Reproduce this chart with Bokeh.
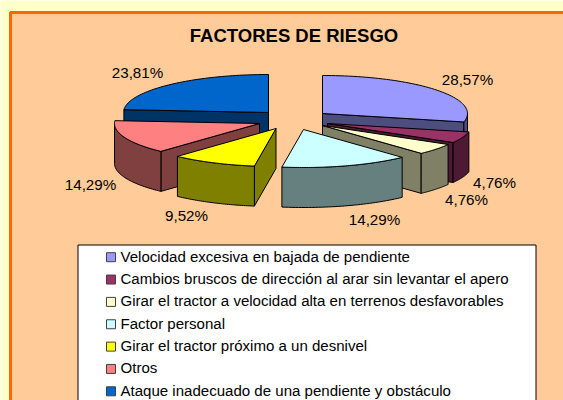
import numpy as np
from bokeh.plotting import figure
from bokeh.models import Range1d
from bokeh.embed import file_html
from bokeh.resources import INLINE
from bokeh.core.properties import value

title = "FACTORES DE RIESGO"
categories = [
    "Velocidad excesiva en bajada de pendiente",
    "Cambios bruscos de dirección al arar sin levantar el apero",
    "Girar el tractor a velocidad alta en terrenos desfavorables",
    "Factor personal",
    "Girar el tractor próximo a un desnivel",
    "Otros",
    "Ataque inadecuado de una pendiente y obstáculo",
]
values = [28.57, 4.76, 4.76, 14.29, 9.52, 14.29, 23.81]
labels = ["28,57%", "4,76%", "4,76%", "14,29%", "9,52%", "14,29%", "23,81%"]

top_colors = ["#9999FF", "#993366", "#FFFFCC", "#CCFFFF", "#FFFF00", "#FF8080", "#0066CC"]
side_colors = ["#4D4D80", "#4D1933", "#808066", "#668080", "#808000", "#804040", "#003366"]

# pie layout (screen pixels)
apex_x = [322, 327, 322, 303, 275.5, 259, 268]
apex_y = [113, 123, 125, 129, 128, 123, 112]
RX, RY, DEPTH = 145, 38, 40
label_x = [467, 494, 466, 374, 186, 90, 137]
label_y = [79, 182, 199, 219, 215, 184, 72]
draw_order = [0, 6, 1, 2, 5, 4, 3]
FONT = value("Liberation Sans")

W, H = 563, 400
p = figure(width=W, height=H, x_range=Range1d(0, W), y_range=Range1d(H, 0),
           output_backend="svg", toolbar_location=None, min_border=0)
p.xaxis.visible = False
p.yaxis.visible = False
p.xgrid.visible = False
p.ygrid.visible = False
p.outline_line_color = None
p.background_fill_color = "#FFFFCC"
p.border_fill_color = "#FFFFCC"

# chart panel
p.quad(left=[10], right=[570], top=[12], bottom=[410], fill_color="#FFCC99",
       line_color="#FF6600", line_width=3)

p.text(x=[293.5], y=[35], text=[title], text_font=FONT, text_font_style="bold",
       text_font_size="18.5px", text_align="center", text_baseline="middle", text_color="#000000")

edges = np.concatenate([[0], np.cumsum(values)]) / sum(values) * 2 * np.pi


def rim(cx, cy, a):
    return cx + RX * np.sin(a), cy - RY * np.cos(a)


for i in draw_order:
    s, e = edges[i], edges[i + 1]
    cx, cy = apex_x[i], apex_y[i]
    # straight cut walls
    for a, visible in ((s, np.sin(s) < 0), (e, np.sin(e) > 0)):
        if visible:
            rx, ry = rim(cx, cy, a)
            p.patch([cx, rx, rx, cx], [cy, ry, ry + DEPTH, cy + DEPTH],
                    fill_color=side_colors[i], line_color="#000000", line_width=1)
    # outer curved wall
    a0, a1 = max(s, np.pi / 2), min(e, 3 * np.pi / 2)
    if a1 > a0:
        t = np.linspace(a0, a1, 40)
        rx, ry = rim(cx, cy, t)
        p.patch(np.r_[rx, rx[::-1]], np.r_[ry, ry[::-1] + DEPTH],
                fill_color=side_colors[i], line_color="#000000", line_width=1)
    # top face
    t = np.linspace(s, e, 60)
    rx, ry = rim(cx, cy, t)
    p.patch(np.r_[cx, rx], np.r_[cy, ry], fill_color=top_colors[i],
            line_color="#000000", line_width=1)

p.text(x=label_x, y=label_y, text=labels, text_font=FONT, text_font_size="15.2px",
       text_align="center", text_baseline="middle", text_color="#000000")

# legend
p.quad(left=[77.5], right=[535.5], top=[244.5], bottom=[420], fill_color="#FFFFFF",
       line_color="#000000", line_width=1)
ly = [256.7 + 22.35 * i for i in range(len(categories))]
p.rect(x=[110.5] * len(ly), y=ly, width=9, height=9, fill_color=top_colors,
       line_color="#404040", line_width=1)
p.text(x=[120] * len(ly), y=[v - 1 for v in ly], text=categories, text_font=FONT,
       text_font_size="15.05px", text_align="left", text_baseline="middle", text_color="#000000")

open("out.html", "w").write(file_html(p, INLINE))
